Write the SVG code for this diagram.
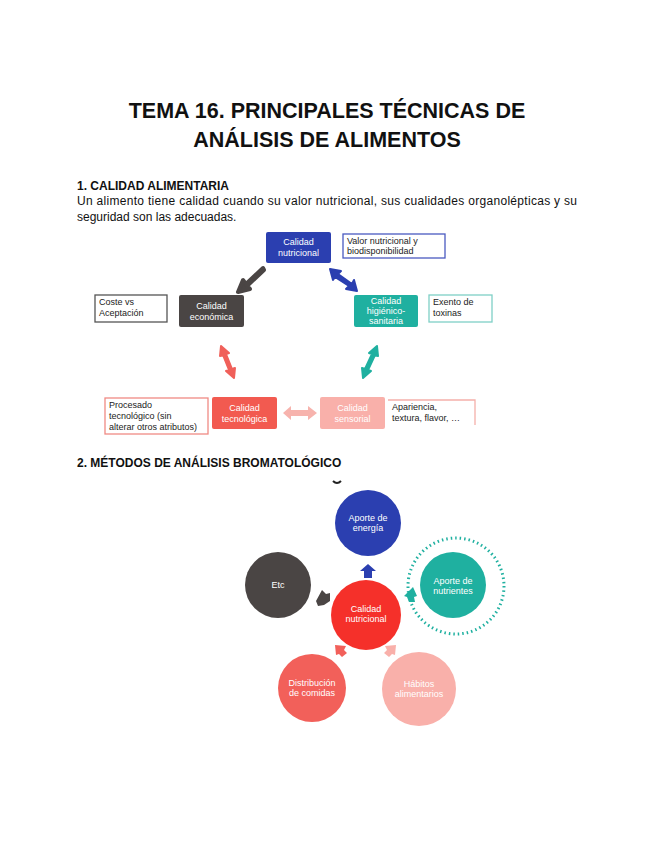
<svg xmlns="http://www.w3.org/2000/svg" width="655" height="848" viewBox="0 0 655 848">
<style>
text{font-family:"Liberation Sans",Arial,sans-serif}
.t{font-size:21.5px;font-weight:bold;fill:#111;text-anchor:middle}
.h{font-size:12px;font-weight:bold;fill:#111}
.p{font-size:12px;fill:#111}
.w{font-size:9px;fill:#fff;text-anchor:middle}
.n{font-size:9px;fill:#222}
.box{fill:#fff;stroke-width:1.3}
</style>
<rect width="655" height="848" fill="#fff"/>
<text class="t" x="327" y="118">TEMA 16. PRINCIPALES TÉCNICAS DE</text>
<text class="t" x="327" y="147">ANÁLISIS DE ALIMENTOS</text>
<text class="h" x="77" y="190">1. CALIDAD ALIMENTARIA</text>
<text class="p" x="77" y="205" textLength="500" lengthAdjust="spacing">Un alimento tiene calidad cuando su valor nutricional, sus cualidades organolépticas y su</text>
<text class="p" x="77" y="221">seguridad son las adecuadas.</text>

<g id="connectors1">
<path d="M263,268 L246,284 L243,280 L238,292 L250,289 L247,286 L264,270 Z" fill="#4a4544" stroke="#4a4544" stroke-width="4" stroke-linejoin="round"/>
<path d="M330,269 L341,271 L338,274 L352,284 L354,280 L357,291 L346,289 L349,286 L335,277 L333,280 Z" fill="#2b3fb0" stroke="#2b3fb0" stroke-width="2" stroke-linejoin="round"/>
<path d="M221,346 L229,353 L226,354 L232,369 L235,368 L234,378 L226,371 L229,370 L223,355 L220,356 Z" fill="#f0605a" stroke="#f0605a" stroke-width="2" stroke-linejoin="round"/>
<path d="M377,346 L378,356 L375,355 L368,370 L371,371 L363,378 L362,368 L365,369 L372,354 L369,353 Z" fill="#1fb0a0" stroke="#1fb0a0" stroke-width="2" stroke-linejoin="round"/>
<path d="M283,413 L291,406 L291,410 L308,410 L308,406 L317,413 L308,420 L308,416 L291,416 L291,420 Z" fill="#f7b3ad"/>
</g>

<g id="nutricional"><rect x="266" y="232" width="65" height="31" rx="2" fill="#2b3fb0"/><text class="w" x="298.5" y="245">Calidad</text><text class="w" x="298.5" y="256">nutricional</text></g>
<g id="valor"><rect class="box" x="343" y="234" width="102" height="24" stroke="#4a5ac0"/><text class="n" x="347" y="244">Valor nutricional y</text><text class="n" x="347" y="254">biodisponibilidad</text></g>
<g id="economica"><rect x="179" y="295" width="65" height="32" rx="2" fill="#4a4544"/><text class="w" x="211.5" y="309">Calidad</text><text class="w" x="211.5" y="320">económica</text></g>
<g id="coste"><rect class="box" x="95" y="295" width="72" height="27" stroke="#555"/><text class="n" x="99" y="305">Coste vs</text><text class="n" x="99" y="316">Aceptación</text></g>
<g id="higienica"><rect x="354" y="295" width="64" height="32" rx="2" fill="#1fb0a0"/><text class="w" x="386" y="304">Calidad</text><text class="w" x="386" y="314">higiénico-</text><text class="w" x="386" y="324">sanitaria</text></g>
<g id="exento"><rect class="box" x="429" y="295" width="63" height="27" stroke="#7fd0c6"/><text class="n" x="433" y="305">Exento de</text><text class="n" x="433" y="316">toxinas</text></g>
<g id="tecnologica"><rect x="212" y="397" width="65" height="32" rx="2" fill="#f25a50"/><text class="w" x="244.5" y="411">Calidad</text><text class="w" x="244.5" y="422">tecnológica</text></g>
<g id="procesado"><rect class="box" x="105" y="398" width="103" height="36" stroke="#f08a84"/><text class="n" x="109" y="408">Procesado</text><text class="n" x="109" y="419">tecnológico (sin</text><text class="n" x="109" y="430">alterar otros atributos)</text></g>
<g id="sensorial"><rect x="320" y="397" width="65" height="32" rx="2" fill="#f9b0aa"/><text class="w" x="352.5" y="411">Calidad</text><text class="w" x="352.5" y="422">sensorial</text></g>
<g id="apariencia"><path d="M388,400 H475 V425" fill="none" stroke="#f5b0aa" stroke-width="1.3"/><text class="n" x="392" y="410">Apariencia,</text><text class="n" x="392" y="421">textura, flavor, …</text></g>

<text class="h" x="77" y="467">2. MÉTODOS DE ANÁLISIS BROMATOLÓGICO</text>
<path d="M333,481 Q337,485 341,481" fill="none" stroke="#222" stroke-width="2"/>

<g id="connectors2">
<path d="M360,571 L368,564 L376,571 L372,571 L372,578 L364,578 L364,571 Z" fill="#2b3fb0"/>
<path d="M316,601 L322,590 L326,594 L330,593 L330,601 L324,605 L318,606 Z" fill="#4a4544"/>
<path d="M413,587 L417,596 L414,597 L415,602 L409,602 L407,597 L404,596 Z" fill="#1fb0a0"/>
<path d="M335,645 L346,646 L344,650 L347,653 L342,657 L339,654 L336,655 Z" fill="#f2605a"/>
<path d="M396,645 L385,646 L387,650 L384,653 L389,657 L392,654 L395,655 Z" fill="#f9b0aa"/>
</g>
<g id="energia"><circle cx="368" cy="523" r="33" fill="#2b3fb0"/><text class="w" x="368" y="521">Aporte de</text><text class="w" x="368" y="531">energía</text></g>
<g id="etc"><circle cx="278" cy="585" r="33" fill="#4a4544"/><text class="w" x="278" y="588">Etc</text></g>
<g id="nutrientes"><circle cx="456" cy="586" r="48" fill="none" stroke="#1fb0a0" stroke-width="3" stroke-dasharray="1.5 3"/><circle cx="453" cy="585" r="33" fill="#1fb0a0"/><text class="w" x="453" y="584">Aporte de</text><text class="w" x="453" y="594">nutrientes</text></g>
<g id="calidad"><circle cx="366" cy="615" r="35" fill="#f5302a"/><text class="w" x="366" y="612">Calidad</text><text class="w" x="366" y="622">nutricional</text></g>
<g id="distribucion"><circle cx="312" cy="688" r="34" fill="#f2605a"/><text class="w" x="312" y="686">Distribución</text><text class="w" x="312" y="696">de comidas</text></g>
<g id="habitos"><circle cx="419" cy="689" r="37" fill="#f9b0aa"/><text class="w" x="419" y="687">Hábitos</text><text class="w" x="419" y="697">alimentarios</text></g>
</svg>
